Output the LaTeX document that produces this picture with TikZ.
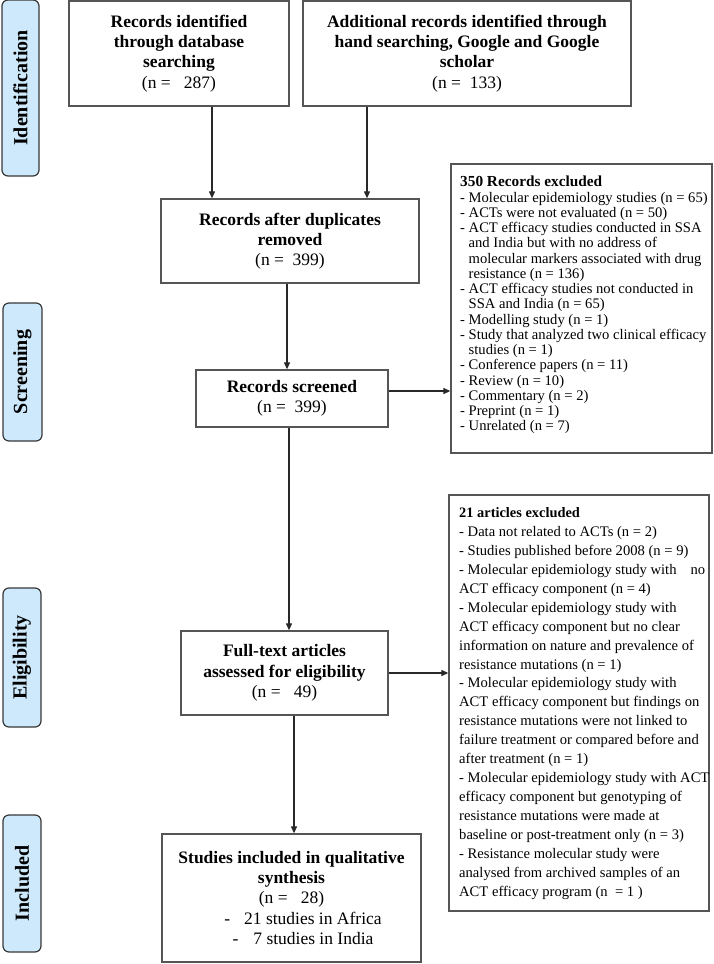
\documentclass[tikz,border=0pt]{standalone}
\usepackage{fontspec}
\setmainfont{Liberation Serif}
\usetikzlibrary{arrows.meta,calc}
\definecolor{boxgray}{RGB}{85,85,85}
\definecolor{labfill}{RGB}{205,233,251}
\definecolor{labline}{RGB}{55,55,55}
\definecolor{arrcol}{RGB}{40,40,40}
\tikzset{
  box/.style={draw=boxgray, line width=1.3pt, fill=white, inner sep=0pt, align=center,
    font=\bfseries\fontsize{17.5}{20.3}\selectfont},
  exbox/.style={draw=boxgray, line width=1.3pt, fill=white, inner sep=0pt},
  extextA/.style={inner sep=0pt, align=left, font=\fontsize{14.6}{15.25}\selectfont},
  extextB/.style={inner sep=0pt, align=left, font=\fontsize{14.6}{18.95}\selectfont},
  lab/.style={draw=labline, fill=labfill, rounded corners=6pt, line width=1.2pt,
    inner sep=0pt, rotate=90, font=\bfseries\fontsize{20}{24}\selectfont},
  arr/.style={draw=arrcol, line width=1.2pt, -{Triangle[length=7pt,width=6pt]}}
}
\begin{document}
\begin{tikzpicture}[x=1pt,y=-1pt]
\useasboundingbox (0,0) rectangle (713,964);

% side labels
\node[lab, minimum width=176pt, minimum height=37pt] (lid) at (20.5,88) {Identification};
\node[lab, minimum width=138pt, minimum height=39pt] (lsc) at (22.5,372) {Screening};
\node[lab, minimum width=139pt, minimum height=38pt] (lel) at (22,657.5) {Eligibility};
\node[lab, minimum width=137pt, minimum height=38pt] (lin) at (22,883.5) {Included};

% main boxes
\node[box, minimum width=220pt, minimum height=105pt] (A) at (179,53.5)
  {Records identified\\through database\\searching\\{\mdseries (n =\ \ \ 287)}};
\node[box, minimum width=328pt, minimum height=105pt] (B) at (467,53.5)
  {Additional records identified through\\hand searching, Google and Google\\scholar\\{\mdseries (n =\ \ 133)}};
\node[box, minimum width=258pt, minimum height=84pt] (dup) at (290,241)
  {Records after duplicates\\removed\\{\mdseries (n =\ \ 399)}};
\node[box, minimum width=192pt, minimum height=57pt] (scr) at (292,398.5)
  {Records screened\\{\mdseries (n =\ \ 399)}};
\node[box, minimum width=207pt, minimum height=84pt] (ft) at (284.5,673)
  {Full-text articles\\assessed for eligibility\\{\mdseries (n =\ \ \ 49)}};
\node[box, minimum width=259pt, minimum height=128pt] (inc) at (291.5,898)
  {Studies included in qualitative\\synthesis\\{\mdseries (n =\ \ \ 28)}\\{\mdseries\hspace*{23pt}-\hspace{14pt}21 studies in Africa}\\{\mdseries\hspace*{23pt}-\hspace{15pt}7 studies in India}};

% exclusion boxes
\node[exbox, minimum width=261pt, minimum height=289pt] (ex1) at (581.5,308.5) {};
\node[extextA, anchor=west] (ex1t) at (460,305) {%
{\bfseries\fontsize{15.3}{15.25}\selectfont 350 Records excluded}\\
- Molecular epidemiology studies (n = 65)\\
- ACTs were not evaluated (n = 50)\\
- ACT efficacy studies conducted in SSA\\
\hphantom{- }and India but with no address of\\
\hphantom{- }molecular markers associated with drug\\
\hphantom{- }resistance (n = 136)\\
- ACT efficacy studies not conducted in\\
\hphantom{- }SSA and India (n = 65)\\
- Modelling study (n = 1)\\
- Study that analyzed two clinical efficacy\\
\hphantom{- }studies (n = 1)\\
- Conference papers (n = 11)\\
- Review (n = 10)\\
- Commentary (n = 2)\\
- Preprint (n = 1)\\
- Unrelated (n = 7)};

\node[exbox, minimum width=260pt, minimum height=416pt] (ex2) at (579,703) {};
\node[extextB, anchor=west] (ex2t) at (459,703.5) {%
{\bfseries\fontsize{14.4}{18.95}\selectfont 21 articles excluded}\\
- Data not related to ACTs (n = 2)\\
- Studies published before 2008 (n = 9)\\
- Molecular epidemiology study with\hspace{14pt}no\\
ACT efficacy component (n = 4)\\
- Molecular epidemiology study with\\
ACT efficacy component but no clear\\
information on nature and prevalence of\\
resistance mutations (n = 1)\\
- Molecular epidemiology study with\\
ACT efficacy component but findings on\\
resistance mutations were not linked to\\
failure treatment or compared before and\\
after treatment (n = 1)\\
- Molecular epidemiology study with ACT\\
efficacy component but genotyping of\\
resistance mutations were made at\\
baseline or post-treatment only (n = 3)\\
- Resistance molecular study were\\
analysed from archived samples of an\\
ACT efficacy program (n\ \ = 1 )};

% connectors
\coordinate (a1) at ([xshift=33pt]A.south);
\draw[arr] (a1) -- (a1 |- dup.north);
\coordinate (b1) at ([xshift=-100pt]B.south);
\draw[arr] (b1) -- (b1 |- dup.north);
\coordinate (d1) at ([xshift=-3pt]dup.south);
\draw[arr] (d1) -- (d1 |- scr.north);
\coordinate (s2) at ([yshift=7.5pt]scr.east);
\draw[arr] (s2) -- (s2 -| ex1.west);
\coordinate (s1) at ([xshift=-3pt]scr.south);
\draw[arr] (s1) -- (s1 |- ft.north);
\draw[arr] (ft.east) -- (ft.east -| ex2.west);
\coordinate (f1) at ([xshift=9.5pt]ft.south);
\draw[arr] (f1) -- (f1 |- inc.north);
\end{tikzpicture}
\end{document}
